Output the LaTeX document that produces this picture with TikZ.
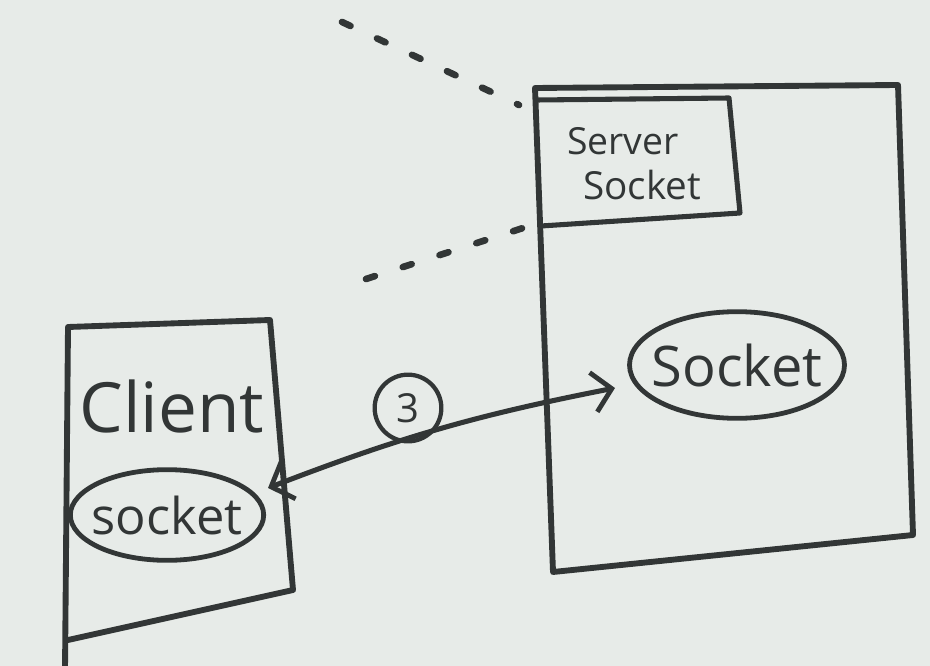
\documentclass[tikz,border=0pt]{standalone}
\usepackage{fontspec}
\setmainfont{Open Sans}
\usetikzlibrary{arrows.meta,shapes.geometric}
\definecolor{ink}{RGB}{50,54,54}
\definecolor{paper}{RGB}{231,235,232}
\begin{document}
\begin{tikzpicture}[x=0.75pt,y=-0.75pt,
  boxline/.style={draw=ink,line width=4.4pt,line join=round,line cap=round},
  innerline/.style={draw=ink,line width=3.8pt,line join=round,line cap=round},
  sockoval/.style={ellipse,draw=ink,line width=3.6pt,inner ysep=0pt,text=ink},
  dotline/.style={draw=ink,line width=5pt,line cap=round,dash pattern=on 7pt off 22pt},
  link/.style={draw=ink,line width=3.8pt,line cap=round,
    {Straight Barb[length=14pt,width=30pt,line width=3.6pt]}-{Straight Barb[length=14pt,width=30pt,line width=3.6pt]}},
  label/.style={text=ink,inner sep=0pt}]
\fill[paper] (0,0) rectangle (930,666);
\useasboundingbox (0,0) rectangle (930,666);

% server box
\coordinate (s1) at (535,88);
\coordinate (s2) at (898,85);
\coordinate (s3) at (913,535);
\coordinate (s4) at (553,572);
\draw[boxline] (s1) -- (s2) -- (s3) -- (s4) -- cycle;

% server socket box
\coordinate (sb1) at (537,100);
\coordinate (sb2) at (729,98);
\coordinate (sb3) at (740,213);
\coordinate (sb4) at (541,226);
\draw[innerline] (sb1) -- (sb2) -- (sb3) -- (sb4);
\node[label,anchor=base west,font=\fontsize{28}{30}\selectfont] (sstext1) at (567,155) {Server};
\node[label,anchor=base west,font=\fontsize{29}{30}\selectfont] (sstext2) at (583,200) {Socket};

% server socket
\node[sockoval,inner xsep=-7pt,minimum width=161pt,minimum height=80pt,font=\fontsize{42}{42}\selectfont] (ssock) at (737,365) {Socket};

% client box
\coordinate (c1) at (68,327);
\coordinate (c2) at (270,320);
\coordinate (c3) at (293,590);
\coordinate (c4) at (68,640);
\coordinate (c5) at (65,670);
\draw[boxline] (c5) -- (c1) -- (c2) -- (c3) -- (c4);
\node[label,anchor=base,font=\fontsize{52}{52}\selectfont] (clabel) at (172,432) {Client};

% client socket
\node[sockoval,inner xsep=-6pt,minimum width=145pt,minimum height=68pt,font=\fontsize{38}{38}\selectfont] (csock) at (167,515) {socket};

% connection
\draw[link] ([shift={(101,-27)}]csock.center) to[bend left=5] ([shift={(-122,23)}]ssock.center);
\node[circle,draw=ink,line width=3.2pt,minimum size=50pt,inner sep=0pt,text=ink,font=\fontsize{30}{30}\selectfont] (three) at (408,408) {3};

% dotted lines
\coordinate (d1) at (342,22);
\coordinate (d2) at (366,279);
\draw[dotline] (d1) -- ([shift={(-18,5)}]sb1);
\draw[dotline] (d2) -- ([shift={(-18,2)}]sb4);
\end{tikzpicture}
\end{document}
